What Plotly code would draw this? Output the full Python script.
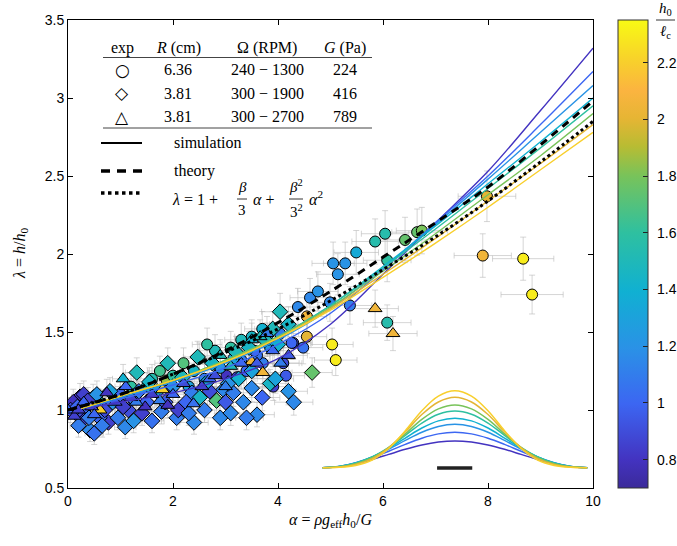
import plotly.graph_objects as go

# ---------------- data ----------------
# experiment 1 (circles): alpha, lambda, h0/lc
circ_x = [1.60, 1.88, 3.02, 3.22, 3.91, 3.71, 4.04, 4.29, 4.48, 4.55, 4.26, 4.38, 4.61, 4.76, 4.99, 5.37,
          5.05, 5.28, 5.14, 5.49, 5.85, 6.04, 6.42, 6.65, 6.74, 6.08, 7.90, 8.67, 8.84, 5.03, 5.10, 6.08,
          7.98, 4.55, 2.50, 2.80, 3.10, 3.30, 3.50, 2.20, 2.65, 3.70, 2.30, 2.60, 1.30, 0.90, 3.40, 3.60,
          4.10, 2.90, 2.00, 1.50, 0.60, 3.85, 4.15, 3.30, 3.55, 2.40, 2.75, 3.15, 3.80, 1.20, 1.75]
circ_y = [1.20, 1.19, 1.22, 1.21, 1.15, 1.30, 1.49, 1.43, 1.40, 1.47, 1.43, 1.66, 1.72, 1.76, 1.69, 1.67,
          1.94, 1.94, 1.87, 2.01, 2.08, 2.13, 2.09, 2.14, 2.15, 1.96, 1.99, 1.97, 1.74, 1.42, 1.32, 1.56,
          2.37, 1.60, 1.33, 1.38, 1.40, 1.45, 1.47, 1.30, 1.42, 1.52, 1.15, 1.20, 1.10, 1.05, 1.25, 1.35,
          1.30, 1.27, 1.22, 1.15, 1.05, 1.40, 1.22, 1.32, 1.38, 1.25, 1.30, 1.33, 1.45, 1.15, 1.25]
circ_h = [1.55, 1.85, 0.80, 0.85, 0.85, 1.10, 1.10, 0.90, 1.05, 2.00, 1.00, 1.15, 1.15, 1.20, 1.15, 1.10,
          1.20, 1.20, 1.20, 1.35, 1.55, 1.55, 1.75, 1.75, 1.80, 1.60, 2.05, 2.30, 2.30, 2.30, 2.30, 1.55,
          2.00, 2.05, 1.60, 1.50, 1.60, 1.50, 1.45, 1.70, 1.60, 1.40, 1.30, 1.20, 1.30, 1.40, 1.00, 1.05,
          0.90, 1.20, 1.60, 1.50, 1.60, 1.25, 0.95, 1.10, 1.00, 1.45, 1.55, 1.30, 1.20, 1.60, 1.65]

# experiment 2 (diamonds)
dia_x = [0.23, 0.42, 0.29, 0.48, 0.77, 0.95, 1.09, 1.31, 1.22, 1.41, 1.78, 1.94, 2.07, 2.10, 2.18, 2.36,
         2.51, 2.47, 2.83, 2.96, 3.15, 3.34, 3.85, 3.50, 4.65, 4.04, 0.15, 0.35, 0.60, 0.70, 0.85, 1.00,
         1.15, 1.50, 1.60, 1.70, 1.85, 2.25, 2.60, 2.70, 2.90, 3.00, 3.25, 3.60, 3.70, 3.95, 4.20, 4.30,
         0.50, 1.25, 2.40, 3.40, 0.40, 1.90, 2.75, 3.20, 3.45, 3.75, 4.00, 4.20, 3.90, 0.10, 0.30, 0.20,
         0.05, 0.18, 0.38, 0.55, 0.65, 0.80, 1.05, 1.35, 1.55, 2.00, 2.30, 2.65, 3.05, 3.50, 3.10]
dia_y = [1.085, 0.87, 0.94, 1.08, 0.92, 0.95, 0.89, 1.24, 1.08, 0.98, 0.99, 1.13, 0.95, 1.00, 1.21, 1.11,
         1.08, 1.34, 1.06, 1.13, 1.11, 1.05, 1.17, 1.14, 1.24, 1.63, 0.98, 1.02, 0.95, 1.00, 1.05, 1.10,
         1.00, 1.05, 0.93, 1.12, 1.05, 1.05, 1.00, 1.12, 0.95, 1.05, 1.20, 0.97, 1.08, 1.20, 1.12, 1.05,
         0.85, 0.93, 0.92, 0.95, 0.95, 1.30, 1.30, 1.37, 1.40, 1.45, 1.42, 1.55, 1.52, 1.05, 1.10, 0.90,
         1.00, 1.02, 1.06, 1.10, 0.90, 1.12, 1.02, 1.12, 1.18, 1.15, 0.98, 1.18, 1.17, 1.25, 0.98]
dia_h = [0.80, 1.15, 0.85, 1.50, 0.85, 1.10, 1.15, 1.50, 1.10, 0.85, 1.10, 0.85, 1.10, 0.85, 1.50, 1.10,
         1.45, 1.50, 1.70, 1.15, 1.10, 1.15, 1.45, 1.15, 1.75, 1.50, 0.90, 1.00, 1.00, 0.90, 1.20, 1.00,
         0.90, 1.00, 1.05, 1.30, 0.95, 1.00, 1.10, 0.90, 1.15, 0.95, 1.40, 1.15, 1.00, 1.30, 1.20, 1.15,
         1.05, 1.20, 1.15, 1.10, 1.10, 1.50, 1.45, 1.50, 1.45, 1.50, 1.40, 1.45, 1.50, 0.80, 0.85, 1.10,
         0.90, 1.00, 0.85, 1.20, 1.10, 1.30, 0.85, 1.10, 1.45, 1.20, 1.10, 1.30, 1.20, 1.30, 1.15]

# experiment 3 (triangles)
tri_x = [0.00, 0.61, 0.74, 1.47, 1.75, 1.80, 2.39, 3.50, 3.71, 3.66, 3.79, 5.85, 6.19, 0.30, 0.90, 1.10,
         1.30, 2.00, 2.20, 2.70, 3.00, 3.30, 1.60, 2.55, 3.10, 2.90, 3.50, 4.05, 4.20, 1.05, 0.45, 1.90, 0.12,
         0.20, 0.50, 1.20, 2.80, 3.60, 3.90]
tri_y = [1.00, 1.00, 1.11, 1.02, 1.06, 1.13, 1.04, 1.31, 1.24, 1.47, 1.49, 1.65, 1.49, 1.05, 1.05, 1.15,
         1.05, 1.10, 1.17, 1.20, 1.15, 1.30, 1.10, 1.15, 1.28, 1.35, 1.45, 1.30, 1.35, 1.20, 1.02, 1.03, 0.96,
         1.00, 0.97, 1.08, 1.22, 1.30, 1.38]
tri_h = [1.00, 2.20, 0.80, 0.80, 1.10, 2.20, 1.05, 2.05, 2.05, 1.50, 1.10, 2.05, 2.05, 1.00, 0.90, 1.00,
         1.10, 1.00, 0.90, 1.00, 1.10, 1.00, 0.85, 0.85, 1.50, 1.50, 1.40, 1.10, 0.95, 1.40, 0.85, 0.80, 0.85,
         0.85, 1.00, 0.85, 0.90, 0.95, 1.00]

# simulation curves (one per h0/lc)
sim_h = [0.8, 1.0, 1.2, 1.4, 1.6, 1.8, 2.0, 2.2]
sim_x = [0.25, 1, 2, 3, 4, 5, 6, 7, 8, 9, 10]
sim_y = [
    [1.01, 1.05, 1.11, 1.20, 1.33, 1.55, 1.87, 2.20, 2.53, 2.92, 3.32],
    [1.01, 1.07, 1.16, 1.27, 1.42, 1.62, 1.90, 2.20, 2.50, 2.83, 3.17],
    [1.01, 1.08, 1.18, 1.30, 1.45, 1.65, 1.91, 2.19, 2.48, 2.78, 3.08],
    [1.01, 1.09, 1.19, 1.31, 1.47, 1.67, 1.92, 2.18, 2.45, 2.72, 3.00],
    [1.01, 1.09, 1.19, 1.32, 1.47, 1.67, 1.91, 2.16, 2.42, 2.68, 2.95],
    [1.01, 1.09, 1.19, 1.32, 1.47, 1.66, 1.89, 2.13, 2.38, 2.63, 2.90],
    [1.01, 1.09, 1.19, 1.31, 1.46, 1.65, 1.87, 2.10, 2.34, 2.58, 2.83],
    [1.01, 1.09, 1.19, 1.31, 1.46, 1.64, 1.85, 2.07, 2.30, 2.54, 2.78],
]

# theory (dashed) and quadratic approximation (dotted)
theory_x = [0, 1, 2, 3, 4, 5, 6, 7, 8, 9, 10]
theory_y = [1.00, 1.10, 1.23, 1.38, 1.56, 1.76, 1.98, 2.20, 2.43, 2.70, 2.98]
approx_x = [0, 1, 2, 3, 4, 5, 6, 7, 8, 9, 10]
approx_y = [1.00, 1.10, 1.23, 1.37, 1.52, 1.70, 1.90, 2.11, 2.34, 2.59, 2.85]

# inset: interface profiles (peak heights) and normalized shapes
inset_peak = [0.801, 0.857, 0.908, 0.947, 0.994, 1.032, 1.081, 1.124]
inset_base = 0.63
inset_u = [-1, -0.875, -0.75, -0.625, -0.5, -0.375, -0.25, -0.125, 0,
           0.125, 0.25, 0.375, 0.5, 0.625, 0.75, 0.875, 1]
shape_broad = [0, 0.04, 0.15, 0.31, 0.50, 0.69, 0.85, 0.96, 1.0, 0.96, 0.85, 0.69, 0.50, 0.31, 0.15, 0.04, 0]
shape_narrow = [0, 0.005, 0.03, 0.10, 0.25, 0.48, 0.74, 0.93, 1.0, 0.93, 0.74, 0.48, 0.25, 0.10, 0.03, 0.005, 0]
inset_center = 7.37
inset_half = 2.52

cb_ticks = [0.8, 1.0, 1.2, 1.4, 1.6, 1.8, 2.0, 2.2]
cb_ticktext = ["0.8", "1", "1.2", "1.4", "1.6", "1.8", "2", "2.2"]
CMIN, CMAX = 0.70, 2.35

# ---------------- colour map (parula-like) ----------------
stops = [
    (0.00, (59, 42, 154)), (0.06, (67, 51, 192)), (0.18, (60, 102, 242)), (0.30, (42, 146, 230)),
    (0.42, (16, 176, 210)), (0.545, (46, 192, 160)), (0.667, (120, 195, 90)), (0.73, (184, 188, 51)),
    (0.79, (230, 181, 52)), (0.85, (251, 180, 64)), (0.91, (248, 207, 44)), (1.00, (248, 250, 20)),
]
colorscale = [[p, "rgb(%d,%d,%d)" % c] for p, c in stops]


def cmap(v):
    t = (v - CMIN) / (CMAX - CMIN)
    t = min(max(t, 0), 1)
    for (p0, c0), (p1, c1) in zip(stops[:-1], stops[1:]):
        if p0 <= t <= p1:
            f = (t - p0) / (p1 - p0) if p1 > p0 else 0
            return "rgb(%d,%d,%d)" % tuple(round(a + (b - a) * f) for a, b in zip(c0, c1))
    return "rgb(%d,%d,%d)" % stops[-1][1]


fig = go.Figure()

# error bars (drawn first so they lie beneath all markers)
all_x = circ_x + dia_x + tri_x
all_y = circ_y + dia_y + tri_y
ebar = "rgba(185,185,185,0.6)"
fig.add_trace(go.Scatter(
    x=all_x, y=all_y, mode="markers", marker=dict(size=1, color="rgba(0,0,0,0)"),
    error_x=dict(type="data", array=[0.15 + 0.05 * v for v in all_x], color=ebar, thickness=1, width=3),
    error_y=dict(type="data", array=[0.02 + 0.06 * v for v in all_y], color=ebar, thickness=1, width=3),
    hoverinfo="skip", showlegend=False))

mk = dict(colorscale=colorscale, cmin=CMIN, cmax=CMAX, line=dict(color="black", width=1))
fig.add_trace(go.Scatter(
    x=circ_x, y=circ_y, mode="markers", showlegend=False,
    marker=dict(symbol="circle", size=11, color=circ_h, **mk,
                colorbar=dict(x=(618 - 68) / 525, xanchor="left", xref="paper", y=0.5, yanchor="middle",
                              len=1, lenmode="fraction", thickness=30, thicknessmode="pixels",
                              outlinecolor="#333", outlinewidth=1, ticks="inside", ticklen=5,
                              tickcolor="#222", tickvals=cb_ticks, showticklabels=False,
                              ypad=0, xpad=0))))
fig.add_trace(go.Scatter(
    x=dia_x, y=dia_y, mode="markers", showlegend=False,
    marker=dict(symbol="diamond", size=12, color=dia_h, **mk)))
fig.add_trace(go.Scatter(
    x=tri_x, y=tri_y, mode="markers", showlegend=False,
    marker=dict(symbol="triangle-up", size=12, color=tri_h, **mk)))

# simulation lines
for h, ys in zip(sim_h, sim_y):
    fig.add_trace(go.Scatter(x=sim_x, y=ys, mode="lines", line=dict(color=cmap(h), width=1.4, shape="spline"),
                             showlegend=False, hoverinfo="skip"))

fig.add_trace(go.Scatter(x=theory_x, y=theory_y, mode="lines",
                         line=dict(color="black", width=3, dash="8px,6px", shape="spline"),
                         showlegend=False))
fig.add_trace(go.Scatter(x=approx_x, y=approx_y, mode="lines",
                         line=dict(color="black", width=3, dash="dot", shape="spline"),
                         showlegend=False))

# inset profiles
n = len(inset_peak)
for i, (h, pk) in enumerate(zip(sim_h, inset_peak)):
    w = i / (n - 1)
    xs = [inset_center + u * inset_half for u in inset_u]
    ys = [inset_base + (pk - inset_base) * ((1 - w) * b + w * s) for b, s in zip(shape_broad, shape_narrow)]
    fig.add_trace(go.Scatter(x=xs, y=ys, mode="lines", line=dict(color=cmap(h), width=1.5, shape="spline"),
                             showlegend=False, hoverinfo="skip"))


# ---------------- annotations / legend table ----------------
def px(xp):
    return (xp - 68) / 525


def py(yp):
    return (488 - yp) / 468


SERIF = "Liberation Serif"
SANS = "Liberation Sans"
ann = []


def text(x, y, s, size=16, xanchor="center", font=SERIF):
    ann.append(dict(x=px(x), y=py(y), xref="paper", yref="paper", text=s, showarrow=False,
                    xanchor=xanchor, yanchor="middle", font=dict(family=font, size=size, color="black")))


# header
text(122, 48, "exp")
text(178, 48, "<i>R</i> (cm)")
text(267, 48, "Ω (RPM)")
text(345, 48, "<i>G</i> (Pa)")
rows = [("○", "6.36", "240 − 1300", "224"), ("◇", "3.81", "300 − 1900", "416"),
        ("△", "3.81", "300 − 2700", "789")]
for (sym, r, om, g), yy in zip(rows, [70, 93.3, 116.7]):
    text(122, yy, sym, size=17, font="DejaVu Sans")
    text(178, yy, r)
    text(267, yy, om)
    text(345, yy, g)
text(172, 143, "simulation", xanchor="left")
text(172, 171, "theory", xanchor="left")
text(170, 199, "<i>λ</i> = 1 +", xanchor="left")
text(242, 187, "<i>β</i>", size=15)
text(242, 210, "3", size=15)
text(251, 199, "<i>α</i> +", xanchor="left")
text(296, 186, "<i>β</i><sup>2</sup>", size=15)
text(296, 211, "3<sup>2</sup>", size=15)
text(307, 198, "<i>α</i><sup>2</sup>", xanchor="left")

# colorbar tick labels and title
for v, s in zip(cb_ticks, cb_ticktext):
    text(655, 488 - (v - CMIN) / (CMAX - CMIN) * 468, s, size=14, xanchor="left", font=SANS)
text(665, 9, "<i>h</i><sub>0</sub>", size=15)
text(665, 32, "<i>ℓ</i><sub>c</sub>", size=15)

# axis titles
text(330, 520, "<i>α</i> = <i>ρg</i><sub>eff</sub><i>h</i><sub>0</sub>/<i>G</i>")
ann.append(dict(x=px(20), y=py(254), xref="paper", yref="paper",
                text="<i>λ</i> = <i>h</i>/<i>h</i><sub>0</sub>", showarrow=False, textangle=-90,
                xanchor="center", yanchor="middle", font=dict(family=SERIF, size=16, color="black")))

shapes = []


def hline(x0, x1, y, width=1, dash="solid", color="black"):
    shapes.append(dict(type="line", xref="paper", yref="paper", x0=px(x0), x1=px(x1), y0=py(y), y1=py(y),
                       line=dict(color=color, width=width, dash=dash)))


hline(103, 372, 57.5, 1, color="#444")
hline(103, 372, 128, 1, color="#444")
hline(101, 142, 143, 2)
hline(101, 142, 171, 3.5, dash="9px,7px")
hline(101, 142, 193, 3.5, dash="dot")
hline(237, 247, 199, 0.8)
hline(289, 303, 199, 0.8)
hline(656, 675, 20, 0.8)
# inset scale bar
shapes.append(dict(type="line", xref="x", yref="y", x0=7.03, x1=7.70, y0=0.628, y1=0.628,
                   line=dict(color="#222", width=3.5)))

axis_common = dict(showline=True, linecolor="black", linewidth=1, mirror="ticks", ticks="inside",
                   ticklen=5, tickcolor="black", showgrid=False, zeroline=False,
                   tickfont=dict(family=SANS, size=14, color="black"))
fig.update_layout(
    width=677, height=546, margin=dict(l=68, r=84, t=20, b=58, autoexpand=False),
    paper_bgcolor="white", plot_bgcolor="white",
    xaxis=dict(range=[0, 10], tickvals=[0, 2, 4, 6, 8, 10], **axis_common),
    yaxis=dict(range=[0.5, 3.5], tickvals=[0.5, 1, 1.5, 2, 2.5, 3, 3.5],
               ticktext=["0.5", "1", "1.5", "2", "2.5", "3", "3.5"], **axis_common),
    annotations=ann, shapes=shapes, showlegend=False,
)

fig.write_html("out.html", config={"displayModeBar": False},
               post_script="document.body.style.margin='0px';")
